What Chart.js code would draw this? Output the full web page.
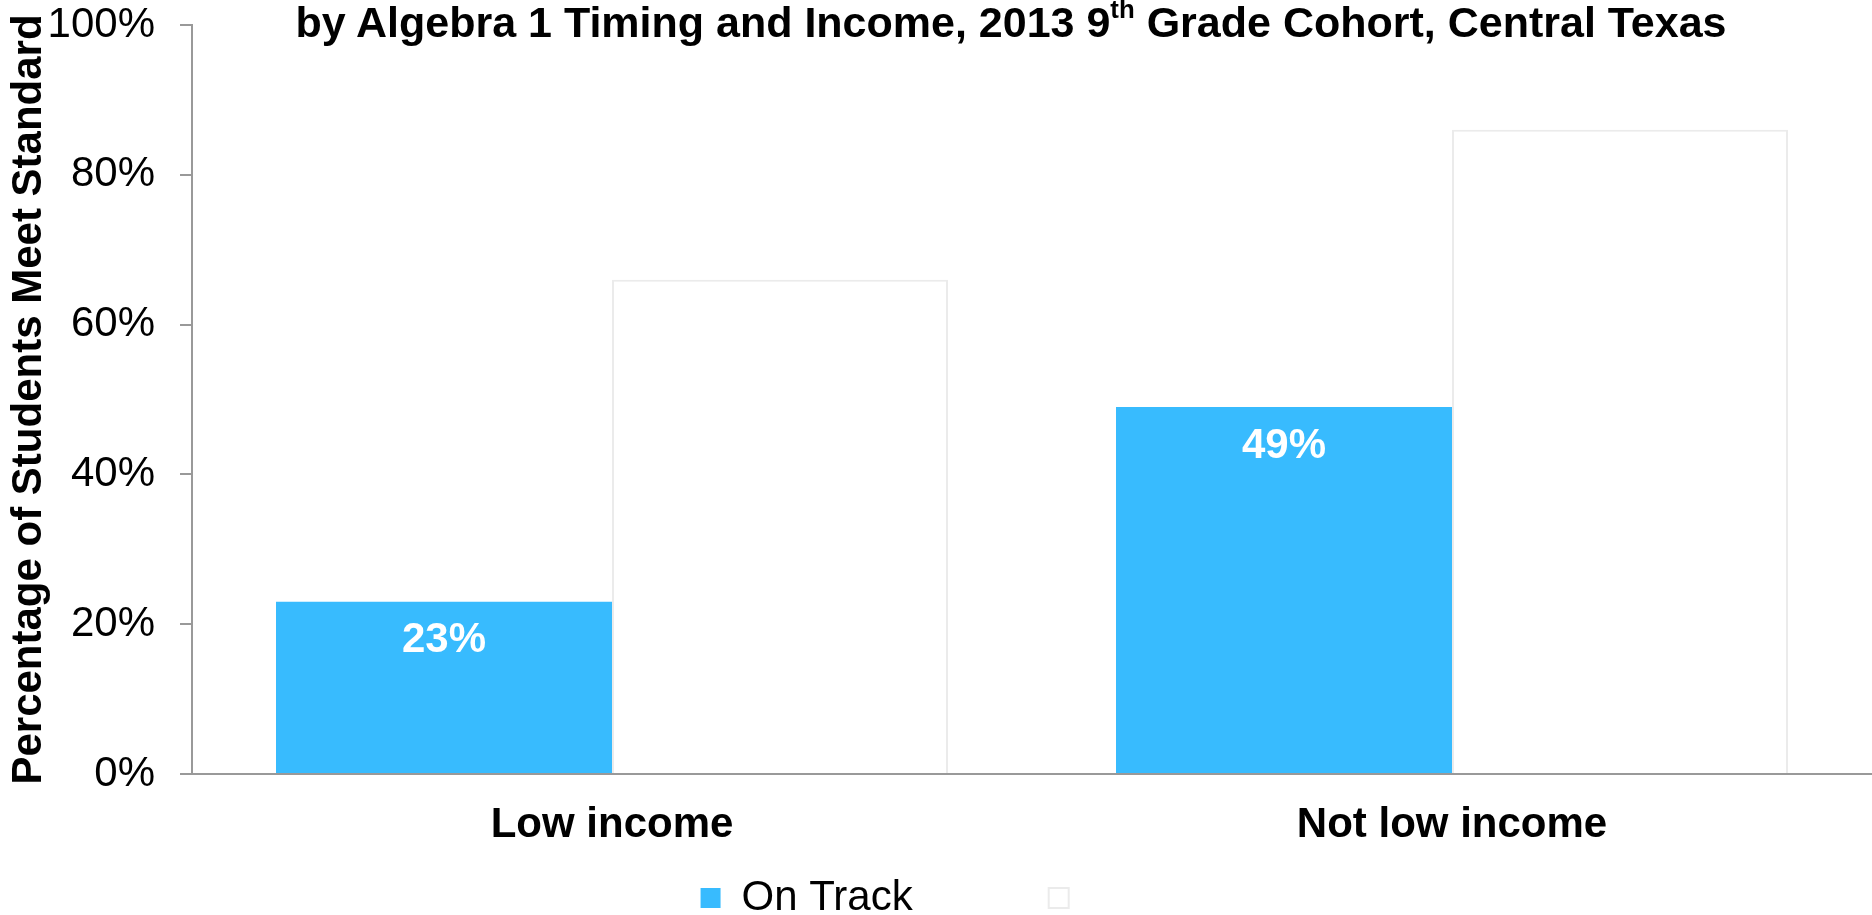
<!DOCTYPE html>
<html>
<head>
<meta charset="utf-8">
<script src="https://cdn.jsdelivr.net/npm/chart.js@4.4.1/dist/chart.umd.min.js"></script>
<style>
  html, body { margin: 0; padding: 0; background: #fff; }
  #wrap { position: relative; width: 1872px; height: 915px; overflow: hidden; }
  #chart { position: absolute; left: 0; top: 0; }
  #title {
    position: absolute; left: 150px; right: 0; top: -2px;
    text-align: center; white-space: nowrap;
    font: bold 43px "Liberation Sans", Arial, sans-serif; line-height: 48px; color: #000;
  }
  #title sup { font-size: 0.6em; vertical-align: 0; position: relative; top: -0.75em; line-height: 0; }
</style>
</head>
<body>
<div id="wrap">
  <canvas id="chart" width="1872" height="915"></canvas>
  <div id="title">by Algebra 1 Timing and Income, 2013 9<sup>th</sup> Grade Cohort, Central Texas</div>
</div>
<script>
document.addEventListener('DOMContentLoaded', () => {
    // Share of students meeting standard, by income group
    const categories = ['Low income', 'Not low income'];
    const seriesNames = ['On Track', 'Late'];
    const onTrack = [23, 49];
    const late = [66, 86];
    const yTicks = [0, 20, 40, 60, 80, 100];

    const FONT = '"Liberation Sans", Arial, sans-serif';
    const BLUE = '#38bbfe';
    const AXIS = '#999999';

    Chart.defaults.font.family = FONT;
    Chart.defaults.color = '#000';

    // White percentage text inside the top of each blue bar
    const barLabels = {
        id: 'barLabels',
        afterDatasetsDraw(chart) {
            const { ctx } = chart;
            const meta = chart.getDatasetMeta(0);
            ctx.save();
            ctx.font = 'bold 42px ' + FONT;
            ctx.fillStyle = '#fff';
            ctx.textAlign = 'center';
            ctx.textBaseline = 'middle';
            meta.data.forEach((bar, i) => {
                ctx.fillText(onTrack[i] + '%', bar.x, bar.y + 39);
            });
            ctx.restore();
        }
    };

    new Chart(document.getElementById('chart'), {
        type: 'bar',
        data: {
            labels: categories,
            datasets: [
                {
                    label: seriesNames[0],
                    data: onTrack,
                    backgroundColor: BLUE,
                    borderWidth: 0,
                    barPercentage: 1.0,
                    categoryPercentage: 0.8
                },
                {
                    label: seriesNames[1],
                    data: late,
                    backgroundColor: '#ffffff',
                    borderColor: '#ebebeb',
                    borderWidth: 2,
                    barPercentage: 1.0,
                    categoryPercentage: 0.8
                }
            ]
        },
        options: {
            responsive: false,
            animation: false,
            layout: { padding: { top: 0, right: 0, bottom: -14, left: 0 } },
            scales: {
                x: {
                    grid: { display: false, drawTicks: false },
                    border: { display: true, color: AXIS, width: 2 },
                    ticks: { padding: 26, font: { size: 42, weight: 'bold' }, color: '#000' },
                    afterFit: scale => { scale.height = 93; }
                },
                y: {
                    min: 0,
                    max: 100,
                    afterBuildTicks: scale => { scale.ticks = yTicks.map(v => ({ value: v })); },
                    grid: { drawOnChartArea: false, drawTicks: true, tickLength: 12, color: AXIS, lineWidth: 2 },
                    border: { display: true, color: AXIS, width: 2 },
                    ticks: {
                        padding: 25,
                        font: { size: 42 },
                        color: '#000',
                        callback: v => v + '%'
                    },
                    title: {
                        display: true,
                        text: 'Percentage of Students Meet Standard',
                        font: { size: 42, weight: 'bold' },
                        color: '#000',
                        padding: { top: 4, bottom: 4 }
                    },
                    afterFit: scale => {
                        scale.width = 192;
                        scale.paddingTop = 25;
                    }
                }
            },
            plugins: {
                title: { display: false },
                tooltip: { enabled: false },
                legend: {
                    position: 'bottom',
                    labels: {
                        boxWidth: 20,
                        boxHeight: 20,
                        padding: 10,
                        font: { size: 42 },
                        generateLabels: chart => chart.data.datasets.map((ds, i) => ({
                            // wide gap after the first entry, second entry text in white
                            text: i === 0 ? ds.label + '\u2003\u2003\u2003' : ds.label,
                            fillStyle: ds.backgroundColor,
                            strokeStyle: ds.borderColor || ds.backgroundColor,
                            lineWidth: ds.borderWidth,
                            fontColor: i === 0 ? '#000' : '#fff',
                            hidden: false,
                            datasetIndex: i
                        }))
                    }
                }
            }
        },
        plugins: [barLabels]
    });
});
</script>
</body>
</html>
